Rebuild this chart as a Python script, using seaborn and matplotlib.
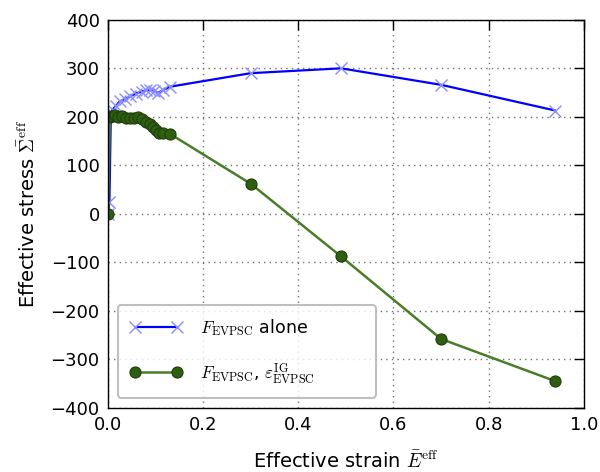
import matplotlib
matplotlib.use("Agg")
import matplotlib.pyplot as plt
import seaborn as sns
import pandas as pd

blue_x = [0.0, 0.003, 0.006, 0.01, 0.016, 0.025, 0.035, 0.046, 0.058, 0.071,
          0.08, 0.088, 0.097, 0.105, 0.115, 0.13, 0.30, 0.49, 0.70, 0.94]
blue_y = [0, 25, 210, 215, 222, 232, 236, 242, 248, 252,
          255, 256, 254, 249, 255, 262, 290, 300, 266, 213]

green_x = [0.0, 0.004, 0.008, 0.015, 0.022, 0.03, 0.038, 0.046, 0.055, 0.064,
           0.072, 0.08, 0.088, 0.095, 0.10, 0.108, 0.115, 0.13, 0.30, 0.49, 0.70, 0.94]
green_y = [0, 200, 202, 204, 200, 201, 198, 197, 198, 200,
           196, 190, 185, 180, 172, 167, 166, 165, 62, -88, -258, -345]

label_blue = r"$F_{\rm EVPSC}$ alone"
label_green = r"$F_{\rm EVPSC}$, $\varepsilon^{\rm IG}_{\rm EVPSC}$"

sns.set_style("white")
plt.rcParams['font.family'] = ['DejaVu Sans']
plt.rcParams['mathtext.fontset'] = 'cm'
plt.rcParams['text.color'] = 'black'
plt.rcParams['axes.labelcolor'] = 'black'
plt.rcParams['xtick.color'] = 'black'
plt.rcParams['ytick.color'] = 'black'

fig = plt.figure(figsize=(6.0, 4.72), dpi=100)
ax = fig.add_axes([0.18, 0.136, 0.793, 0.822])

df_b = pd.DataFrame({"x": blue_x, "y": blue_y})
df_g = pd.DataFrame({"x": green_x, "y": green_y})

sns.lineplot(data=df_b, x="x", y="y", sort=False, estimator=None, ax=ax,
             color="#0000ff", lw=1.6, marker="x", markersize=9,
             markeredgecolor="#8c8cff", markeredgewidth=1.0, label=label_blue)
sns.lineplot(data=df_g, x="x", y="y", sort=False, estimator=None, ax=ax,
             color="#4a7d27", lw=1.8, marker="o", markersize=8,
             markerfacecolor="#2e5e12", markeredgecolor="#1f3f0a",
             markeredgewidth=0.8, label=label_green)

ax.set_xlim(0, 1.0)
ax.set_ylim(-400, 400)
ax.set_xticks([0.0, 0.2, 0.4, 0.6, 0.8, 1.0])
ax.set_yticks(range(-400, 401, 100))
ax.set_xticklabels(["0.0", "0.2", "0.4", "0.6", "0.8", "1.0"])
ax.set_yticklabels(["\u2212400", "\u2212300", "\u2212200", "\u2212100", "0",
                    "100", "200", "300", "400"])
ax.grid(True, color="#707070", linestyle=(0, (1, 3)), linewidth=1.0)
ax.tick_params(direction="in", length=7, width=1, top=True, right=True,
               labelsize=13, pad=6, color="black", labelcolor="black")
for s in ax.spines.values():
    s.set_color("black")
    s.set_linewidth(1.0)

ax.set_xlabel(r"Effective strain $\bar{E}^{\rm eff}$", fontsize=14, labelpad=12, color="black")
ax.set_ylabel(r"Effective stress $\bar{\Sigma}^{\rm eff}$", fontsize=14, labelpad=8, color="black")

leg = ax.legend(loc="lower left", bbox_to_anchor=(0.021, 0.026, 0.542, 0.24), mode="expand",
                borderaxespad=0.0,
                fontsize=12.5, handlelength=3.0, handletextpad=1.0, labelspacing=1.3,
                borderpad=0.7, frameon=True, fancybox=True, numpoints=2)
leg.get_frame().set_edgecolor("#b0b0b0")
leg.get_frame().set_linewidth(1.5)
for t in leg.get_texts():
    t.set_color("black")

fig.savefig("out.png", dpi=100)
